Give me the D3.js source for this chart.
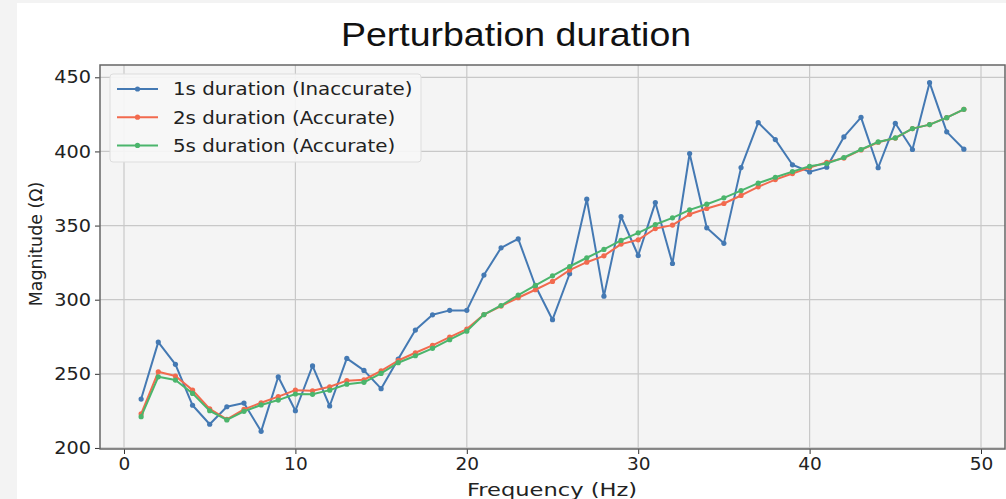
<!DOCTYPE html>
<html>
<head>
<meta charset="utf-8">
<script src="https://cdn.jsdelivr.net/npm/d3@7"></script>
<style>
  body { margin: 0; background: #ffffff; }
  svg text { font-family: "DejaVu Sans", sans-serif; }
</style>
</head>
<body>
<div id="chart"></div>
<script>
"use strict";

// frequencies (Hz)
const freqs = d3.range(1, 50);

// magnitude for each perturbation duration
const dur1s = [233, 271.4, 256.4, 228.8, 216, 227.8, 230.3, 211.2, 248, 225.1,
    255.3, 228.3, 260.4, 252.3, 240, 260, 279.5, 289.8, 292.8, 292.8,
    316.6, 335, 341, 309.4, 286.5, 317.5, 367.8, 302.4, 356.1, 329.8,
    365.5, 324.4, 398.6, 348.5, 338, 389.1, 419.5, 408, 391, 386.2,
    389.4, 409.8, 423, 389, 419, 401.3, 446.4, 413.2, 401.5];
const dur2s = [223, 251.4, 248.5, 239, 226.3, 219.3, 226, 230.5, 234.6, 239,
    238.6, 241.3, 245.4, 246, 252, 259, 264.2, 269.2, 274.8, 280.2,
    290, 295.7, 301.3, 306.7, 312.3, 320, 325.3, 329.6, 337.5, 340.4,
    348, 350.3, 357.6, 361.5, 364.9, 370.3, 376.1, 381, 385.1, 389.1,
    392.7, 395.5, 401, 406.2, 409, 415.4, 418.1, 422.8, 428.4];
const dur5s = [221.1, 248, 245.8, 236.8, 225.1, 218.9, 224.7, 229, 232.3, 236.4,
    236.2, 239, 243, 244.3, 250.3, 257.5, 262.2, 267.2, 273, 278.8,
    290, 296.1, 303.1, 309.6, 316.1, 322.4, 328.3, 333.9, 340, 345.1,
    350.7, 355.2, 360.6, 364.4, 368.7, 373.6, 378.6, 382.6, 386.4, 390,
    391.8, 395.9, 401.3, 406.4, 409.1, 415.4, 418.1, 422.8, 428.4];

const seriesNames = ["1s duration (Inaccurate)", "2s duration (Accurate)", "5s duration (Accurate)"];
const seriesColors = ["#4479b3", "#f26a4e", "#4bb56c"];
const xTicks = [0, 10, 20, 30, 40, 50];
const yTicks = [200, 250, 300, 350, 400, 450];

const W = 1006, H = 499;
const plot = { left: 100, top: 65, right: 1005, bottom: 449 };

const svg = d3.select("#chart").append("svg")
    .attr("width", W).attr("height", H);

// outer grey strip
svg.append("rect").attr("width", W).attr("height", H).attr("fill", "#f3f3f3");
svg.append("rect").attr("x", 17).attr("y", 3).attr("width", W - 17).attr("height", H - 3)
    .attr("fill", "#ffffff");

const x = d3.scaleLinear().domain([-1.4, 51.4]).range([plot.left, plot.right]);
const y = d3.scaleLinear().domain([199.3, 458.3]).range([plot.bottom, plot.top]);

// the picture is a little wider than tall, so text is stretched sideways
function stretchedText(parent, px, py, sx, anchor, size, str) {
    return parent.append("text")
        .attr("transform", "translate(" + px + "," + py + ") scale(" + sx + ",1)")
        .attr("text-anchor", anchor)
        .attr("font-size", size)
        .attr("fill", "#222")
        .text(str);
}

// plot background
svg.append("rect")
    .attr("x", plot.left).attr("y", plot.top)
    .attr("width", plot.right - plot.left).attr("height", plot.bottom - plot.top)
    .attr("fill", "#f4f4f4");

// grid
const grid = svg.append("g");
grid.selectAll(".gx").data(xTicks).enter().append("line")
    .attr("x1", d => x(d)).attr("x2", d => x(d))
    .attr("y1", plot.top).attr("y2", plot.bottom)
    .attr("stroke", "#c8c8c8").attr("stroke-width", 1.2);
grid.selectAll(".gy").data(yTicks).enter().append("line")
    .attr("x1", plot.left).attr("x2", plot.right)
    .attr("y1", d => y(d)).attr("y2", d => y(d))
    .attr("stroke", "#c8c8c8").attr("stroke-width", 1.2);

// axes
const xAxis = svg.append("g")
    .attr("transform", "translate(0," + plot.bottom + ")")
    .call(d3.axisBottom(x).tickValues(xTicks).tickSize(5).tickPadding(4));
const yAxis = svg.append("g")
    .attr("transform", "translate(" + plot.left + ",0)")
    .call(d3.axisLeft(y).tickValues(yTicks).tickSize(5).tickPadding(4));
[xAxis, yAxis].forEach(a => {
    a.select(".domain").remove();
    a.selectAll("line").attr("stroke", "#333");
    a.selectAll("text").attr("font-size", 17.5).attr("fill", "#222")
        .attr("font-family", "DejaVu Sans");
});
// widen tick labels a bit around their anchor
xAxis.selectAll(".tick text").attr("transform", "scale(1.06,1)");
yAxis.selectAll(".tick text").each(function () {
    const t = d3.select(this);
    const tx = +t.attr("x");
    t.attr("x", null).attr("transform", "translate(" + tx + ",0) scale(1.1,1)");
});

// frame
svg.append("rect")
    .attr("x", plot.left).attr("y", plot.top)
    .attr("width", plot.right - plot.left).attr("height", plot.bottom - plot.top)
    .attr("fill", "none").attr("stroke", "#666").attr("stroke-width", 1.5);

// lines
const allSeries = [dur1s, dur2s, dur5s];
const line = d3.line().x((d, i) => x(freqs[i])).y(d => y(d));

allSeries.forEach((vals, k) => {
    const g = svg.append("g");
    g.append("path").datum(vals)
        .attr("d", line)
        .attr("fill", "none")
        .attr("stroke", seriesColors[k])
        .attr("stroke-width", 2)
        .attr("stroke-linejoin", "round");
    g.selectAll("circle").data(vals).enter().append("circle")
        .attr("cx", (d, i) => x(freqs[i]))
        .attr("cy", d => y(d))
        .attr("r", 2.6)
        .attr("fill", seriesColors[k]);
});

// legend
const leg = svg.append("g").attr("transform", "translate(110,74)");
leg.append("rect").attr("width", 311).attr("height", 88).attr("rx", 3)
    .attr("fill", "#f7f7f7").attr("fill-opacity", 0.9)
    .attr("stroke", "#dddddd");
seriesNames.forEach((name, k) => {
    const ly = 15 + k * 28.2;
    leg.append("line").attr("x1", 7).attr("x2", 48).attr("y1", ly).attr("y2", ly)
        .attr("stroke", seriesColors[k]).attr("stroke-width", 2);
    leg.append("circle").attr("cx", 27.5).attr("cy", ly).attr("r", 2.6)
        .attr("fill", seriesColors[k]);
    stretchedText(leg, 63, ly + 6.3, 1.14, "start", 17.4, name);
});

// title and axis labels
stretchedText(svg, 516, 46, 1.12, "middle", 33.5, "Perturbation duration")
    .style("font-family", "'Liberation Sans', Arial, sans-serif")
    .attr("fill", "#111");

stretchedText(svg, 552, 496, 1.22, "middle", 18.5, "Frequency (Hz)");

svg.append("text")
    .attr("transform", "translate(42," + 244 + ") rotate(-90)")
    .attr("text-anchor", "middle")
    .attr("font-size", 17.4).attr("fill", "#222")
    .text("Magnitude (Ω)");
</script>
</body>
</html>
